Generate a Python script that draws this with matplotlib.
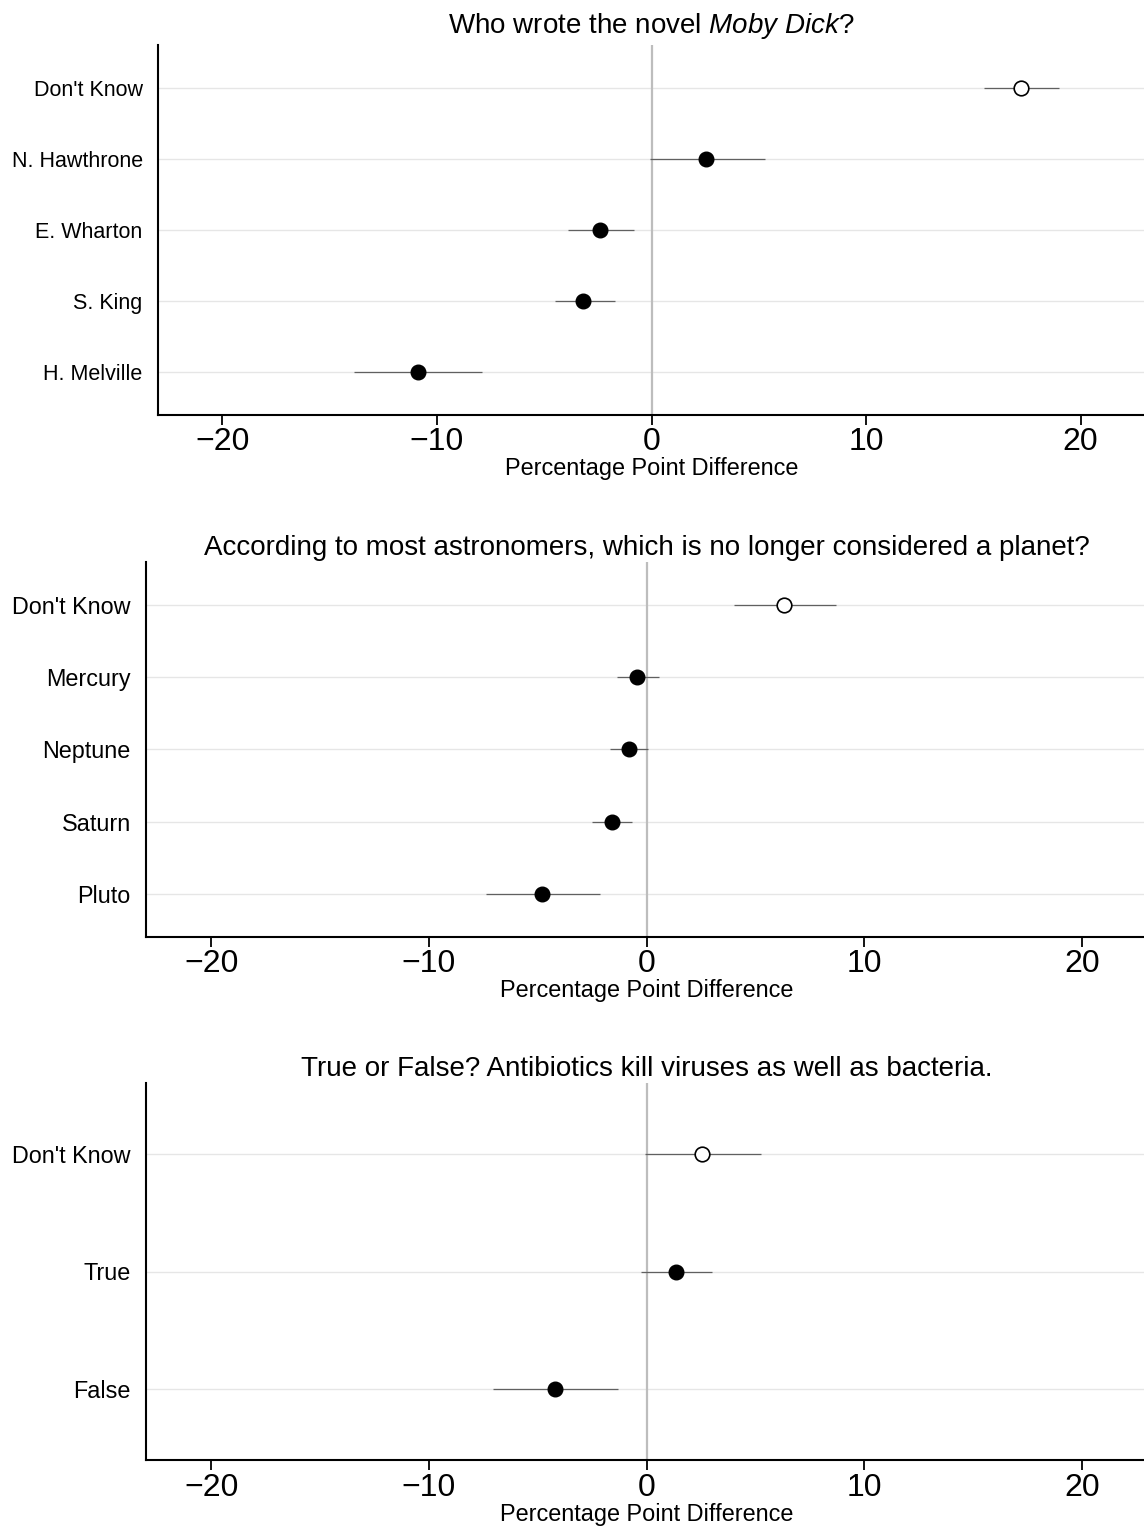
import matplotlib
matplotlib.use("Agg")
import matplotlib.pyplot as plt

plt.rcParams['font.family'] = ['Liberation Sans', 'DejaVu Sans']
plt.rcParams['mathtext.fontset'] = 'custom'
plt.rcParams['mathtext.rm'] = 'Liberation Sans'
plt.rcParams['mathtext.it'] = 'Liberation Sans:italic'

titles = ["Who wrote the novel $\\mathit{Moby\\ Dick}$?",
          "According to most astronomers, which is no longer considered a planet?",
          "True or False? Antibiotics kill viruses as well as bacteria."]

cats1 = ["H. Melville", "S. King", "E. Wharton", "N. Hawthrone", "Don't Know"]
est1 = [-10.86, -3.17, -2.38, 2.56, 17.2]
lo1 = [-13.85, -4.52, -3.87, -0.05, 15.5]
hi1 = [-7.88, -1.72, -0.80, 5.30, 19.0]

cats2 = ["Pluto", "Saturn", "Neptune", "Mercury", "Don't Know"]
est2 = [-4.78, -1.60, -0.82, -0.42, 6.34]
lo2 = [-7.38, -2.49, -1.67, -1.37, 4.03]
hi2 = [-2.14, -0.66, 0.09, 0.59, 8.70]

cats3 = ["False", "True", "Don't Know"]
est3 = [-4.20, 1.37, 2.56]
lo3 = [-7.04, -0.23, -0.09]
hi3 = [-1.30, 3.02, 5.28]

xticks = [-20, -10, 0, 10, 20]
xlabel = "Percentage Point Difference"

W, H = 1144, 1526
fig = plt.figure(figsize=(W / 100, H / 100), dpi=100)

boxes = [(158, 1145, 45, 415), (146, 1147, 562, 937), (146, 1147, 1083, 1460)]
ylabsize = [15.5, 16.8, 16.8]
titlepad = [9, 5, 5]
panels = [(cats1, est1, lo1, hi1), (cats2, est2, lo2, hi2), (cats3, est3, lo3, hi3)]

for i, ((l, r, t, b), (cats, est, lo, hi)) in enumerate(zip(boxes, panels)):
    ax = fig.add_axes([l / W, 1 - b / H, (r - l) / W, (b - t) / H])
    ys = list(range(len(cats)))
    for y in ys:
        ax.axhline(y, color='#e6e6e6', lw=1.0, zorder=0)
    ax.axvline(0, color='#bdbdbd', lw=1.6, zorder=1)
    ax.hlines(ys, lo, hi, color='#606060', lw=0.9, zorder=2)
    n = len(cats)
    ax.plot(est[:-1], ys[:-1], 'o', color='black', ms=10.5, zorder=3)
    ax.plot(est[-1:], ys[-1:], 'o', mfc='white', mec='black', mew=1.2, ms=10.5, zorder=3)
    ax.set_xlim(-23, 23)
    ax.set_ylim(-0.6, n - 1 + 0.6)
    ax.set_yticks(ys)
    ax.set_yticklabels(cats, fontsize=ylabsize[i])
    ax.set_xticks(xticks)
    ax.set_xticklabels([f"{v}".replace('-', '\u2212') for v in xticks], fontsize=23)
    ax.tick_params(axis='y', length=0, pad=11)
    ax.tick_params(axis='x', length=7, width=1.3, pad=2, direction='out')
    for s in ['top', 'right']:
        ax.spines[s].set_visible(False)
    for s in ['left', 'bottom']:
        ax.spines[s].set_linewidth(1.5)
    ax.set_xlabel(xlabel, fontsize=16.9, labelpad=0)
    ax.set_title(titles[i], fontsize=20, pad=titlepad[i])

fig.savefig("out.png", dpi=100)
